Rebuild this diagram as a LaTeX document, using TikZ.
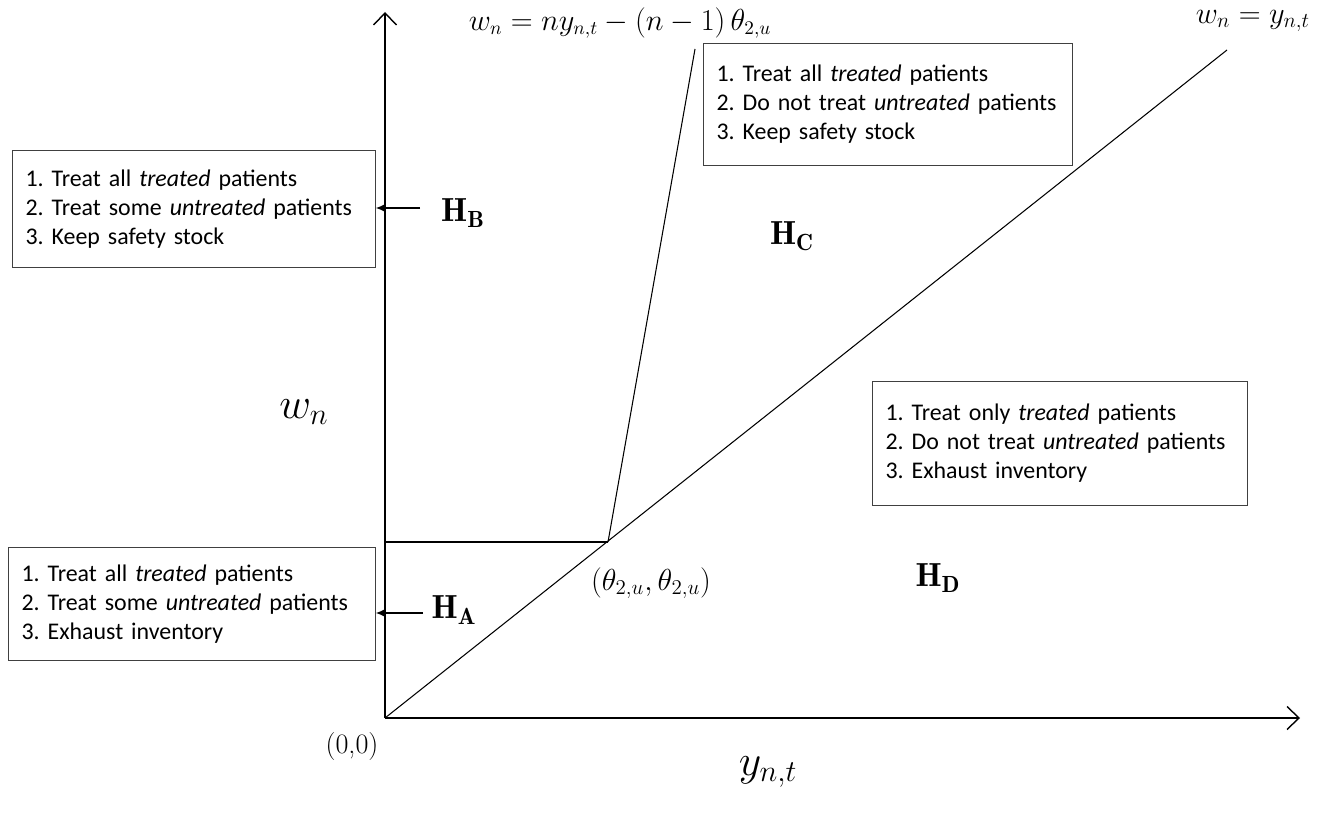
\documentclass[tikz,border=0pt]{standalone}
\usepackage{fontspec}
\newfontfamily\carlito{Carlito}
\usetikzlibrary{positioning,calc,arrows.meta}
\frenchspacing

\begin{document}
\begin{tikzpicture}[
  x=0.02cm, y=-0.02cm,
  box/.style={draw=black!75, line width=0.6pt, anchor=north west, inner xsep=0.26cm, align=left,
    font=\carlito\fontsize{13.6}{16.5}\selectfont},
  axis/.style={line width=0.8pt, -{Straight Barb[length=2.4mm, width=4.6mm]}},
  ptr/.style={line width=0.6pt, -{Latex[length=1.8mm, width=1.6mm]}},
  border/.style={line width=0.6pt},
  region/.style={inner sep=0pt, font=\fontsize{19}{21}\selectfont},
  lbl/.style={inner sep=0pt, font=\fontsize{16}{19}\selectfont},
  big/.style={inner sep=0pt, font=\fontsize{27}{30}\selectfont}
]
\useasboundingbox (0,0) rectangle (1341,813);

% axes and borders
\coordinate (o) at (385,718);
\coordinate (xend) at (1300,718);
\coordinate (yend) at (385,12);
\coordinate (k) at (608,542);
\coordinate (diagtop) at (1227,50);
\coordinate (steeptop) at (695,49);

\draw[axis] (o) -- (xend);
\draw[axis] (o) -- (yend);
\draw[border] (o) -- (diagtop);
\draw[border] (k) -- (steeptop);
\draw[border] (o |- k) -- (k);

% decision boxes
\node[box, text width=6.74cm, minimum height=2.34cm] (boxb) at (12,150)
  {1. Treat all \textit{treated} patients\\2. Treat some \textit{untreated} patients\\3. Keep safety stock};
\node[box, text width=6.82cm, minimum height=2.26cm] (boxa) at (8,547)
  {1. Treat all \textit{treated} patients\\2. Treat some \textit{untreated} patients\\3. Exhaust inventory};
\node[box, text width=6.86cm, minimum height=2.44cm] (boxc) at (703,43)
  {1. Treat all \textit{treated} patients\\2. Do not treat \textit{untreated} patients\\3. Keep safety stock};
\node[box, text width=6.98cm, minimum height=2.48cm] (boxd) at (872,381)
  {1. Treat only \textit{treated} patients\\2. Do not treat \textit{untreated} patients\\3. Exhaust inventory};

% regions
\node[region] (hb) at (463,213) {$\mathbf{H}_{\mathbf{B}}$};
\node[region] (ha) at (454,610) {$\mathbf{H}_{\mathbf{A}}$};
\node[region] (hc) at (792,236) {$\mathbf{H}_{\mathbf{C}}$};
\node[region] (hd) at (938,578) {$\mathbf{H}_{\mathbf{D}}$};

\coordinate (hbtail) at (420,208);
\coordinate (hatail) at (423,613);
\draw[ptr] (hbtail) -- (hbtail -| boxb.east);
\draw[ptr] (hatail) -- (hatail -| boxa.east);

% labels
\node[lbl] (steeplbl) at (620,23) {$w_n = ny_{n,t} - (n-1)\,\theta_{2,u}$};
\node[lbl, font=\fontsize{17.5}{20}\selectfont] (diaglbl) at (1253,21) {$w_n = y_{n,t}$};
\node[lbl, font=\fontsize{17.5}{20}\selectfont] (kinklbl) at (651,583) {$(\theta_{2,u},\theta_{2,u})$};
\node[inner sep=0pt, font=\fontsize{16}{19}\selectfont] (olbl) at (352,746) {(0,0)};
\node[big] (wlbl) at (304,412) {$w_n$};
\node[big] (ylbl) at (768,772) {$y_{n,t}$};
\end{tikzpicture}
\end{document}
